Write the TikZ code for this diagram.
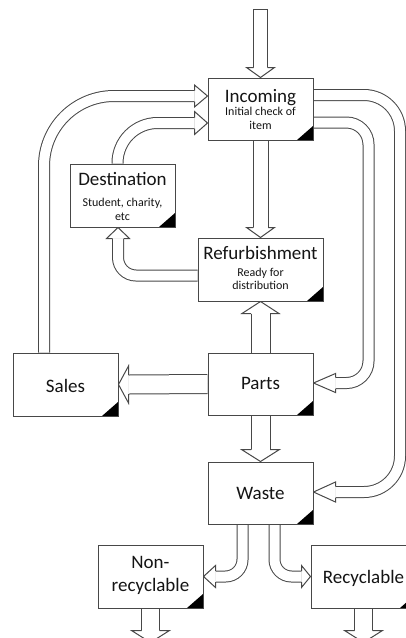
\documentclass[tikz,border=0pt]{standalone}
\usepackage{fontspec}
\setmainfont{Carlito}
\usetikzlibrary{backgrounds,calc}
\definecolor{lc}{HTML}{484848}
\definecolor{tc}{HTML}{141414}
\tikzset{
  ln/.style={draw=lc, line width=1pt},
  shaft/.style={draw=lc, line width=1pt, double=white, double distance=#1},
  box/.style={draw=lc, fill=white, line width=1pt, inner sep=0pt,
    minimum width=105pt, minimum height=62pt,
    path picture={\fill[black] (path picture bounding box.south east) -- ++(-16pt,0pt) -- ++(16pt,14pt) -- cycle;}},
  ttl/.style={font=\fontsize{19}{22}\selectfont, text=tc, anchor=base, inner sep=0pt},
  sub/.style={font=\fontsize{12}{13}\selectfont, text=tc, anchor=base, inner sep=0pt}
}
% tip, angle, shaft-line half width, head half width, head length
\newcommand\hhead[5]{%
  \begin{scope}[shift={(#1)},rotate=#2]
    \fill[white] (0pt,0pt) -- (-#5pt,#4pt) -- (-#5pt,-#4pt) -- cycle;
    \draw[ln, line join=miter] (-#5pt,#3pt) -- (-#5pt,#4pt) -- (0pt,0pt) -- (-#5pt,-#4pt) -- (-#5pt,-#3pt);
  \end{scope}}
\begin{document}
\begin{tikzpicture}[x=1pt,y=-1pt]
\useasboundingbox (0,0) rectangle (406,638);
\begin{scope}
\clip (0,0) rectangle (406,638);
% boxes
\node[box] (inc) at (260.5,109) {};
\node[box, minimum width=125pt, minimum height=63pt] (ref) at (260.5,269.5) {};
\node[box, minimum height=63pt] (dest) at (122.5,195.5) {};
\node[box, minimum height=63pt] (sales) at (65.5,384.5) {};
\node[box] (parts) at (260.5,384) {};
\node[box] (wst) at (260.5,493) {};
\node[box, minimum height=63pt] (nonrec) at (150.5,576.5) {};
\node[box, minimum height=63pt] (rec) at (363.5,576.5) {};
% texts
\node[ttl] (incT) at (260.5,102) {Incoming};
\node[sub] (incS1) at (260.5,115.5) {Initial check of};
\node[sub] (incS2) at (260.5,129) {item};
\node[ttl] (refT) at (260.5,259) {Refurbishment};
\node[sub] (refS1) at (260.5,276) {Ready for};
\node[sub] (refS2) at (260.5,289) {distribution};
\node[ttl] (destT) at (122.5,185) {Destination};
\node[sub] (destS1) at (122.5,206) {Student, charity,};
\node[sub] (destS2) at (122.5,220) {etc};
\node[ttl] (salesT) at (65.5,392) {Sales};
\node[ttl] (partsT) at (260.5,389) {Parts};
\node[ttl] (wstT) at (260.5,499) {Waste};
\node[ttl] (nonT1) at (150.5,568) {Non-};
\node[ttl] (nonT2) at (150.5,591) {recyclable};
\node[ttl] (recT) at (363.5,583) {Recyclable};
\end{scope}

\begin{pgfonlayer}{background}
\begin{scope}
\clip (0,0) rectangle (406,638);
\coordinate (topin) at (260.5,9);
% A: top input
\draw[shaft=13pt] (topin) -- ([yshift=10pt]inc.north);
\draw[ln] ([xshift=-7pt]topin) -- ([xshift=7pt]topin);
\hhead{inc.north}{-90}{7}{14}{10}
% B: incoming -> refurbishment
\draw[shaft=14pt] (inc.south) -- ([yshift=10pt]ref.north);
\hhead{ref.north}{-90}{7.5}{14}{10}
% C: parts -> refurbishment
\draw[shaft=18pt] (parts.north) -- ([yshift=-12pt]ref.south);
\hhead{ref.south}{90}{9.5}{18.5}{12}
% D: parts -> waste
\draw[shaft=18pt] (parts.south) -- ([yshift=12pt]wst.north);
\hhead{wst.north}{-90}{9.5}{19}{12}
% E: parts -> sales
\draw[shaft=18pt] (parts.west) -- ([xshift=10pt]sales.east);
\hhead{sales.east}{180}{9.5}{18.5}{10}
% F: refurbishment -> destination
\draw[shaft=10pt, rounded corners=18pt] ([yshift=-6pt]ref.west) -- (118,275.5) -- ([xshift=-4.5pt,yshift=-11pt]dest.south);
\hhead{[xshift=-4.5pt]dest.south}{90}{5.5}{11.5}{11}
% G: destination -> incoming
\draw[shaft=10pt, rounded corners=40pt] ([xshift=-5pt]dest.north) -- (117.5,123) -- ([xshift=-13pt,yshift=-14pt]inc.west);
\hhead{[yshift=-14pt]inc.west}{0}{5.5}{11.5}{13}
% H: sales -> incoming
\draw[shaft=10pt, rounded corners=70pt] ([xshift=-21.5pt]sales.north) -- (44,96) -- ([xshift=-13pt,yshift=13pt]inc.west);
\hhead{[yshift=13pt]inc.west}{0}{5.5}{11}{13}
% I: incoming -> parts
\draw[shaft=10pt, rounded corners=22pt] ([yshift=-13.5pt]inc.east) -- (368.5,122.5) -- (368.5,383) -- ([xshift=22pt,yshift=1pt]parts.east);
\hhead{[yshift=1pt]parts.east}{180}{5.5}{9.5}{22}
% J: incoming -> waste
\draw[shaft=10pt, rounded corners=36pt] ([yshift=14pt]inc.east) -- (400,95) -- (400,492) -- ([xshift=22pt,yshift=1pt]wst.east);
\hhead{[yshift=1pt]wst.east}{180}{5.5}{10}{22}
% K: waste -> non-recyclable
\draw[shaft=10pt, rounded corners=17pt] ([xshift=-18pt]wst.south) -- (242.5,576.5) -- ([xshift=12pt]nonrec.east);
\hhead{nonrec.east}{180}{5.5}{11}{12}
% L: waste -> recyclable
\draw[shaft=10pt, rounded corners=17pt] ([xshift=14pt]wst.south) -- (274.5,576.5) -- ([xshift=-9pt]rec.west);
\hhead{rec.west}{0}{5.5}{11}{9}
% M, N: outputs
\draw[shaft=17pt] (nonrec.south) -- ([yshift=-22pt]nonrec.south);
\hhead{[yshift=-34pt]nonrec.south}{-90}{9}{19}{12}
\draw[shaft=17pt] (rec.south) -- ([yshift=-22pt]rec.south);
\hhead{[yshift=-34pt]rec.south}{-90}{9}{19}{12}
\end{scope}
\end{pgfonlayer}
\end{tikzpicture}
\end{document}
